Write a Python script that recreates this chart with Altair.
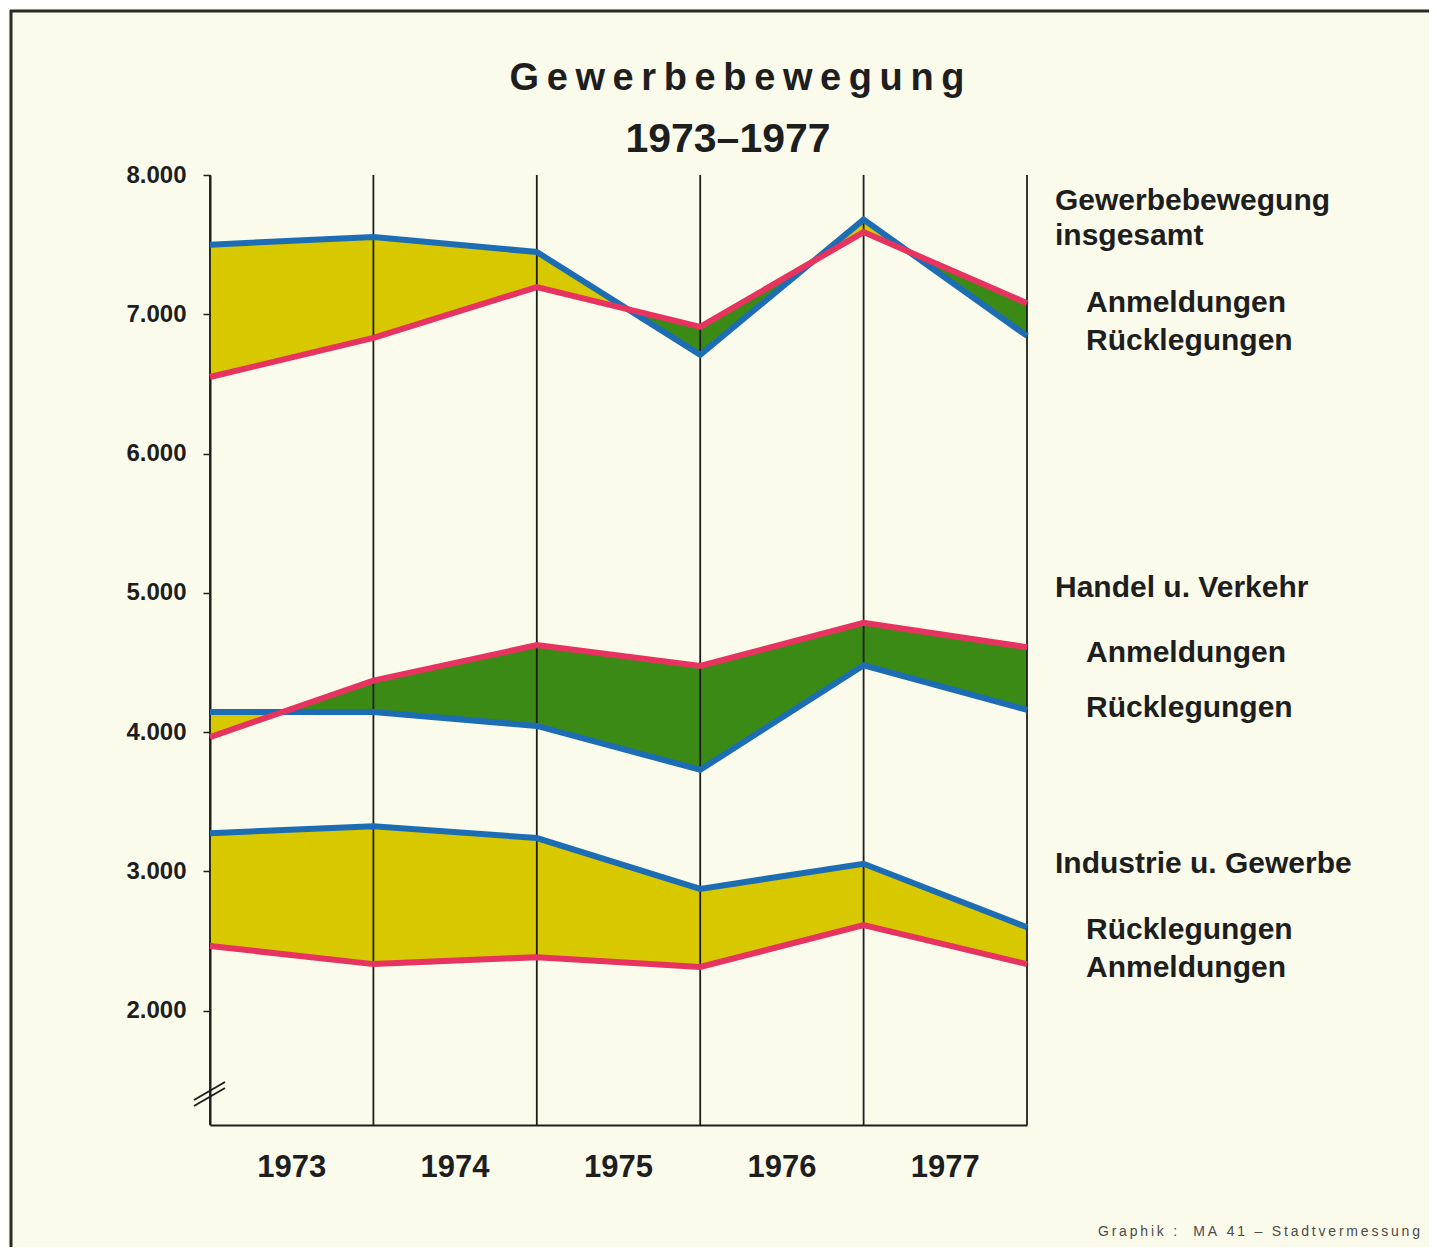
import altair as alt
import pandas as pd

# ---------------- data ----------------
years = ["1973", "1974", "1975", "1976", "1977"]
year_pos = [0.5, 1.5, 2.5, 3.5, 4.5]
points = [0, 1, 2, 3, 4, 5]

gesamt_anm = [6550, 6830, 7195, 6910, 7590, 7080]
gesamt_rue = [7500, 7555, 7447, 6710, 7680, 6845]
handel_anm = [3965, 4370, 4625, 4475, 4785, 4610]
handel_rue = [4145, 4145, 4045, 3730, 4480, 4160]
industrie_anm = [2465, 2335, 2385, 2315, 2615, 2335]
industrie_rue = [3275, 3325, 3240, 2875, 3055, 2600]

groups = ["Gewerbebewegung insgesamt", "Handel u. Verkehr", "Industrie u. Gewerbe"]
series_anm = [gesamt_anm, handel_anm, industrie_anm]
series_rue = [gesamt_rue, handel_rue, industrie_rue]

right_labels = ["Gewerbebewegung", "insgesamt", "Anmeldungen", "Rücklegungen",
                "Handel u. Verkehr", "Anmeldungen", "Rücklegungen",
                "Industrie u. Gewerbe", "Rücklegungen", "Anmeldungen"]
right_label_x = [845, 845, 876, 876, 845, 876, 876, 845, 876, 876]
right_label_y = [35, 70, 137, 175, 422, 487, 542, 698, 764, 802]

footer_text = "Graphik :  MA 41 – Stadtvermessung"

Y_MIN, Y_MAX = 1180, 8000
FONT = "Liberation Sans"
YELLOW = "#d8c800"
GREEN = "#3b8a16"
BLUE = "#1d6db5"
RED = "#e6335f"
INK = "#1e1e1e"
BG = "#fbfbec"

# ---------------- derived tables ----------------
def densify(name, anm, rue):
    rows = []
    for i in range(len(points)):
        rows.append((name, points[i], anm[i], rue[i]))
        if i < len(points) - 1:
            d0 = rue[i] - anm[i]
            d1 = rue[i + 1] - anm[i + 1]
            if d0 * d1 < 0:
                t = d0 / (d0 - d1)
                x = points[i] + t
                v = anm[i] + t * (anm[i + 1] - anm[i])
                rows.append((name, x, v, v))
    return rows

rows = []
for g, a, r in zip(groups, series_anm, series_rue):
    rows += densify(g, a, r)
area_df = pd.DataFrame(rows, columns=["group", "x", "anm", "rue"])
area_df["top"] = area_df[["anm", "rue"]].max(axis=1)

line_rows = []
for g, a, r in zip(groups, series_anm, series_rue):
    for p, va, vr in zip(points, a, r):
        line_rows.append((g, p, va, vr))
line_df = pd.DataFrame(line_rows, columns=["group", "x", "anm", "rue"])

W, H = 817, 950
xs = alt.Scale(domain=[0, 5], range=[0, W], nice=False, zero=False)
ys = alt.Scale(domain=[Y_MIN, Y_MAX], nice=False, zero=False)

base = alt.Chart(area_df)

yellow = base.mark_area(color=YELLOW, opacity=1).encode(
    x=alt.X("x:Q", scale=xs,
            axis=alt.Axis(labels=False, ticks=False, grid=False, title=None,
                          domainColor=INK, domainWidth=2, values=[0, 5])),
    y=alt.Y("anm:Q", scale=ys,
            axis=alt.Axis(values=[2000, 3000, 4000, 5000, 6000, 7000, 8000],
                          labelExpr="replace(format(datum.value, ','), ',', '.')",
                          labelFont=FONT, labelFontSize=24, labelFontWeight="bold",
                          labelColor=INK, tickSize=7, tickColor=INK, tickWidth=1.5,
                          domainColor=INK, domainWidth=2, labelPadding=17,
                          grid=False, title=None)),
    y2="top:Q",
    detail="group:N",
)
green = base.mark_area(color=GREEN, opacity=1).encode(
    x=alt.X("x:Q", scale=xs),
    y=alt.Y("rue:Q", scale=ys),
    y2="top:Q",
    detail="group:N",
)

vrules = alt.Chart(pd.DataFrame({"x": points, "top": [Y_MAX] * 6, "bot": [Y_MIN] * 6})).mark_rule(
    color=INK, strokeWidth=1.8
).encode(x=alt.X("x:Q", scale=xs), y=alt.Y("top:Q", scale=ys), y2="bot:Q")

lb = alt.Chart(line_df)
blue_line = lb.mark_line(color=BLUE, strokeWidth=6, strokeJoin="miter", strokeCap="butt").encode(
    x=alt.X("x:Q", scale=xs), y=alt.Y("rue:Q", scale=ys), detail="group:N"
)
red_line = lb.mark_line(color=RED, strokeWidth=6, strokeJoin="miter", strokeCap="butt").encode(
    x=alt.X("x:Q", scale=xs), y=alt.Y("anm:Q", scale=ys), detail="group:N"
)

year_text = alt.Chart(pd.DataFrame({"x": year_pos, "t": years})).mark_text(
    font=FONT, fontSize=31, fontWeight="bold", color=INK, baseline="alphabetic", align="center"
).encode(x=alt.X("x:Q", scale=xs), y=alt.value(1002), text="t:N")

lab_df = pd.DataFrame({"t": right_labels, "px": right_label_x, "py": right_label_y})
right_text = alt.Chart(lab_df).mark_text(
    font=FONT, fontSize=30, fontWeight="bold", color=INK, baseline="alphabetic", align="left"
).encode(x=alt.X("px:Q", scale=None), y=alt.Y("py:Q", scale=None), text="t:N")

thin = "\u2009"
title1 = alt.Chart(pd.DataFrame({"t": [thin.join("Gewerbebewegung")]})).mark_text(
    font=FONT, fontSize=38, fontWeight="bold", color=INK, baseline="alphabetic", align="center"
).encode(x=alt.value(527), y=alt.value(-85), text="t:N")
title2 = alt.Chart(pd.DataFrame({"t": ["1973–1977"]})).mark_text(
    font=FONT, fontSize=41, fontWeight="bold", color=INK, baseline="alphabetic", align="center"
).encode(x=alt.value(518), y=alt.value(-23), text="t:N")

footer = alt.Chart(pd.DataFrame({"t": [thin.join(footer_text)]})).mark_text(
    font=FONT, fontSize=14, color="#4a4a4a", baseline="alphabetic", align="right"
).encode(x=alt.value(1210), y=alt.value(1061), text="t:N")

frame_left = alt.Chart(pd.DataFrame({"a": [0]})).mark_rule(color="#2a2a2a", strokeWidth=3).encode(
    x=alt.value(-199), y=alt.value(-165), y2=alt.value(1100)
)
frame_top = alt.Chart(pd.DataFrame({"a": [0]})).mark_rule(color="#2a2a2a", strokeWidth=3).encode(
    x=alt.value(-200), x2=alt.value(1240), y=alt.value(-164)
)
brk1 = alt.Chart(pd.DataFrame({"a": [0]})).mark_rule(color=INK, strokeWidth=2).encode(
    x=alt.value(-16), x2=alt.value(15), y=alt.value(931), y2=alt.value(913)
)
brk2 = alt.Chart(pd.DataFrame({"a": [0]})).mark_rule(color=INK, strokeWidth=2).encode(
    x=alt.value(-16), x2=alt.value(15), y=alt.value(925), y2=alt.value(907)
)

chart = alt.layer(
    yellow, green, vrules, blue_line, red_line, year_text, right_text,
    title1, title2, footer, frame_left, frame_top, brk1, brk2
).properties(
    width=W, height=H,
    autosize=alt.AutoSizeParams(type="none"),
    padding={"left": 202, "top": 167, "right": 402, "bottom": 122},
    background=BG,
).configure_view(stroke=None)

chart.save("out.html", embed_options={"renderer": "svg", "actions": False})
